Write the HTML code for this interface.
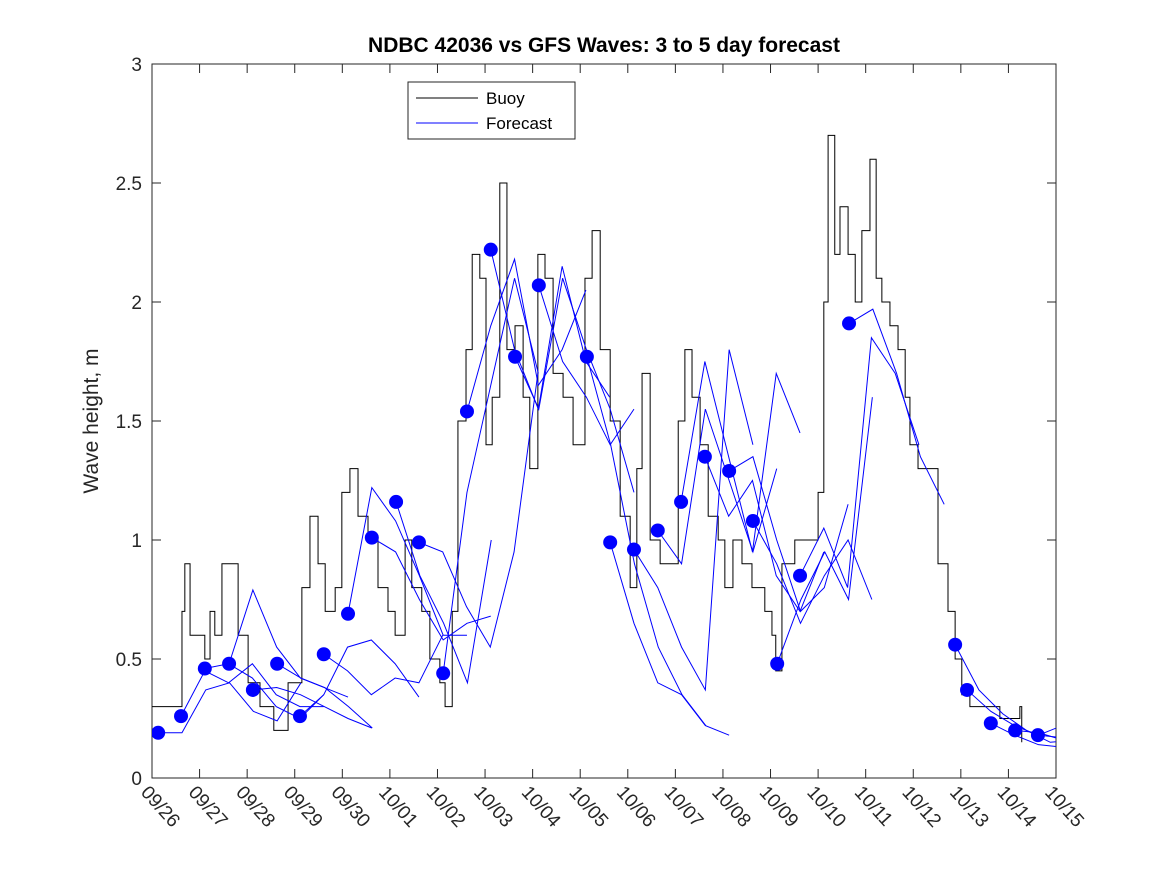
<!DOCTYPE html>
<html><head><meta charset="utf-8"><style>
body{margin:0;background:#fff}
svg{display:block;font-family:"Liberation Sans","DejaVu Sans",sans-serif}
</style></head><body>
<svg id="chart" width="1167" height="875" viewBox="0 0 1167 875">
<defs><clipPath id="pc"><rect x="152" y="64" width="904" height="714"/></clipPath></defs>
<rect x="0" y="0" width="1167" height="875" fill="#fff"/>
<text x="604" y="52" text-anchor="middle" font-size="21" font-weight="bold">NDBC 42036 vs GFS Waves: 3 to 5 day forecast</text>
<text transform="translate(98,421) rotate(-90)" text-anchor="middle" font-size="21" fill="#262626">Wave height, m</text>
<g id="axes"></g>
<g id="plot" clip-path="url(#pc)"></g>
<g>
<rect x="408" y="82" width="167" height="57" fill="#fff" stroke="#262626" stroke-width="1"/>
<line x1="416" y1="98" x2="478" y2="98" stroke="#000" stroke-width="1"/>
<text x="486" y="104" font-size="17">Buoy</text>
<line x1="416" y1="123" x2="478" y2="123" stroke="#00f" stroke-width="1"/>
<text x="486" y="129" font-size="17">Forecast</text>
</g>
</svg>
<script>
const xTickLabels=["09/26","09/27","09/28","09/29","09/30","10/01","10/02","10/03","10/04","10/05","10/06","10/07","10/08","10/09","10/10","10/11","10/12","10/13","10/14","10/15"];
const yTicks=[0,0.5,1,1.5,2,2.5,3];
const buoyDays=[0,0.59,0.63,0.69,0.80,0.90,1.11,1.22,1.32,1.47,1.68,1.81,2.02,2.27,2.52,2.56,2.80,2.86,3.05,3.15,3.32,3.49,3.64,3.85,3.99,4.16,4.33,4.54,4.75,4.96,5.11,5.32,5.46,5.67,5.84,6.05,6.16,6.31,6.43,6.60,6.73,6.89,7.02,7.15,7.31,7.46,7.63,7.80,7.94,8.11,8.26,8.43,8.64,8.85,9.10,9.25,9.42,9.63,9.84,10.05,10.19,10.30,10.47,10.68,10.85,11.06,11.20,11.35,11.52,11.69,11.90,12.04,12.21,12.40,12.61,12.88,13.03,13.11,13.24,13.51,13.79,14.00,14.12,14.21,14.35,14.46,14.63,14.78,14.92,15.09,15.22,15.34,15.51,15.68,15.83,15.93,16.10,16.39,16.52,16.73,16.88,17.02,17.19,17.61,17.82,18.24,18.28];
const buoyValues=[0.3,0.3,0.7,0.9,0.6,0.6,0.5,0.7,0.6,0.9,0.9,0.6,0.4,0.3,0.3,0.2,0.2,0.4,0.4,0.8,1.1,0.9,0.7,0.8,1.2,1.3,1.1,1.0,0.8,0.7,0.6,1.0,0.8,0.7,0.5,0.4,0.3,0.7,1.5,1.8,2.2,2.1,1.4,1.6,2.5,1.8,1.9,1.6,1.3,2.2,2.1,1.7,1.6,1.4,2.1,2.3,1.8,1.5,1.1,0.8,1.3,1.7,1.0,0.9,0.9,1.5,1.8,1.6,1.4,1.1,1.0,0.8,1.0,0.9,0.8,0.7,0.6,0.45,0.9,1.0,1.0,1.2,2.0,2.7,2.2,2.4,2.2,2.0,2.3,2.6,2.1,2.0,1.9,1.8,1.6,1.4,1.3,1.3,0.9,0.7,0.5,0.35,0.3,0.3,0.25,0.3,0.15];
const fcStarts=[0.13,0.61,1.11,1.62,2.12,2.63,3.11,3.61,4.12,4.62,5.13,5.61,6.12,6.62,7.12,7.63,8.13,9.14,9.63,10.13,10.63,11.12,11.62,12.13,12.63,13.14,13.62,14.65,16.88,17.13,17.63,18.14,18.62];
const fcValues=[
[0.19,0.19,0.37,0.40,0.28,0.24,0.40],
[0.26,0.45,0.40,0.48,0.35,0.30,0.30],
[0.46,0.48,0.42,0.30,0.25,0.35],
[0.48,0.79,0.55,0.42,0.38,0.34],
[0.37,0.38,0.35,0.30,0.25,0.21],
[0.48,0.42,0.38,0.30,0.21],
[0.26,0.35,0.55,0.58,0.48,0.34],
[0.52,0.45,0.35,0.42,0.40,0.60],
[0.69,1.22,1.08,0.85,0.60,0.60],
[1.01,0.95,0.75,0.58,0.65,0.68],
[1.16,0.85,0.65,0.40,1.00],
[0.99,0.95,0.72,0.55,0.95,1.70],
[0.44,1.20,1.65,2.10,1.70],
[1.54,1.90,2.18,1.65,1.80,2.05],
[2.22,1.80,1.55,2.15,1.75,1.60],
[1.77,1.55,2.10,1.80,1.55,1.20],
[2.07,1.75,1.60,1.40,1.55],
[1.77,1.40,0.90,0.55,0.35,0.22],
[0.99,0.65,0.40,0.35,0.22,0.18],
[0.96,0.80,0.55,0.37,1.80,1.40],
[1.04,0.90,1.55,1.25,0.95,1.30],
[1.16,1.75,1.35,0.95,1.70,1.45],
[1.35,1.10,1.25,0.85,0.70,0.95],
[1.29,1.35,1.00,0.70,0.80,1.15],
[1.08,0.90,0.65,0.85,1.00,0.75],
[0.48,0.75,0.95,0.75,1.60],
[0.85,1.05,0.80,1.85,1.70,1.40],
[1.91,1.97,1.70,1.35,1.15],
[0.56,0.37,0.27,0.20,0.15,0.16],
[0.37,0.28,0.22,0.18,0.22,0.25],
[0.23,0.18,0.14,0.13,0.17],
[0.20,0.19,0.16],
[0.18,0.17]
];
const fcStep=0.5;
const X0=152,X1=1056,Y0=778,Y1=64,DAYS=19,YMAX=3;
const NS="http://www.w3.org/2000/svg";
function sx(d){return X0+(X1-X0)*d/DAYS;}
function sy(v){return Y0-(Y0-Y1)*v/YMAX;}
function mk(tag,attrs,parent){const e=document.createElementNS(NS,tag);for(const k in attrs)e.setAttribute(k,attrs[k]);parent.appendChild(e);return e;}
const axes=document.getElementById('axes'),plot=document.getElementById('plot');
const frame=mk('rect',{x:X0,y:Y1,width:X1-X0,height:Y0-Y1,fill:'none',stroke:'#262626','stroke-width':1},axes);


yTicks.forEach(v=>{
 const y=sy(v);
 mk('line',{x1:X0,y1:y,x2:X0+9,y2:y,stroke:'#262626'},axes);
 mk('line',{x1:X1,y1:y,x2:X1-9,y2:y,stroke:'#262626'},axes);
 const t=mk('text',{x:X0-10,y:y+7,'text-anchor':'end','font-size':19,fill:'#262626'},axes);
 t.textContent=String(v);
 
 
});
xTickLabels.forEach((lab,i)=>{
 const x=sx(i);
 mk('line',{x1:x,y1:Y0,x2:x,y2:Y0-9,stroke:'#262626'},axes);
 mk('line',{x1:x,y1:Y1,x2:x,y2:Y1+9,stroke:'#262626'},axes);
 const t=mk('text',{transform:`translate(${x-12},${Y0+15}) rotate(48)`,'font-size':19,fill:'#262626'},axes);
 t.textContent=lab;
 
 
});
let d='';
buoyDays.forEach((t,i)=>{
 const x=sx(t),y=sy(buoyValues[i]);
 if(i===0)d+=`M${x},${y}`;else d+=`H${x}V${y}`;
});
const bp=mk('path',{d:d,fill:'none',stroke:'#000','stroke-width':1},plot);


fcStarts.forEach((s,i)=>{
 const vals=fcValues[i];
 const pts=vals.map((v,j)=>`${sx(s+j*fcStep)},${sy(v)}`).join(' ');
 const pl=mk('polyline',{points:pts,fill:'none',stroke:'#00f','stroke-width':1},plot);
 
 
});
fcStarts.forEach((s,i)=>{
 const c=mk('circle',{cx:sx(s),cy:sy(fcValues[i][0]),r:7,fill:'#00f'},plot);
 
 
});
</script>
</body></html>
